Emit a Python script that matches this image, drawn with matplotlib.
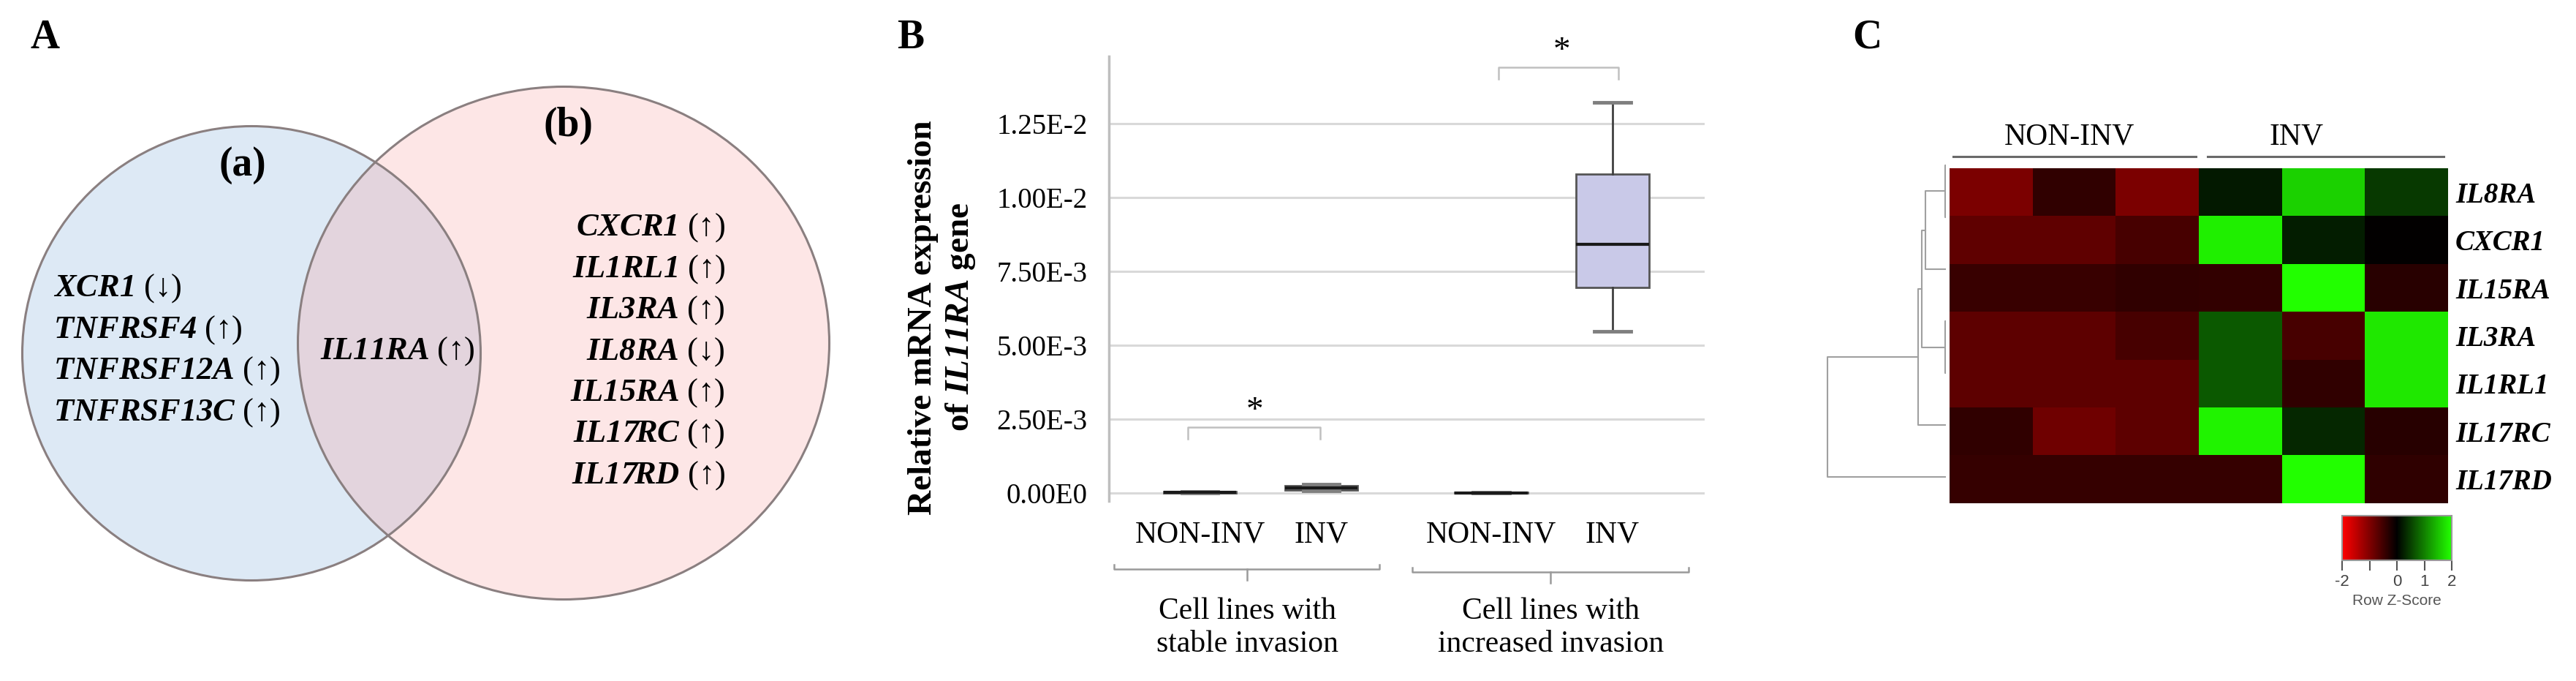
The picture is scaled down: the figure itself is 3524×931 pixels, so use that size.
import numpy as np
import matplotlib
matplotlib.use("Agg")
import matplotlib.pyplot as plt
from matplotlib.patches import Ellipse
from matplotlib.colors import LinearSegmentedColormap

plt.rcParams['font.family'] = ['Liberation Serif', 'DejaVu Serif']
# gene symbols are set in bold italic, digits included
plt.rcParams['mathtext.fontset'] = 'custom'
plt.rcParams['mathtext.it'] = 'Liberation Serif:style=italic:weight=bold'
plt.rcParams['mathtext.rm'] = 'Liberation Serif:style=italic:weight=bold'
plt.rcParams['mathtext.bf'] = 'Liberation Serif:style=italic:weight=bold'

W, H = 3524, 931
DPI = 100

# ---- data -------------------------------------------------------------
# Panel A: Venn gene lists
genes_a = ["XCR1", "TNFRSF4", "TNFRSF12A", "TNFRSF13C"]
arrows_a = ["↓", "↑", "↑", "↑"]
genes_ab = ["IL11RA"]
arrows_ab = ["↑"]
genes_b = ["CXCR1", "IL1RL1", "IL3RA", "IL8RA", "IL15RA", "IL17RC", "IL17RD"]
arrows_b = ["↑", "↑", "↑", "↓", "↑", "↑", "↑"]

# Panel B: box plot summary of IL11RA expression
box_labels = ["NON-INV", "INV", "NON-INV", "INV"]
box_pos = [1.0, 2.0, 3.4, 4.4]
box_whislo = [0.0, 0.8e-4, 0.0, 5.47e-3]
box_q1 = [0.0, 1.0e-4, 0.0, 6.95e-3]
box_med = [2e-5, 1.7e-4, 1e-5, 8.41e-3]
box_q3 = [4e-5, 2.4e-4, 2e-5, 1.08e-2]
box_whishi = [5e-5, 3.0e-4, 3e-5, 1.322e-2]
y_ticks = [0.0, 2.5e-3, 5.0e-3, 7.5e-3, 1.0e-2, 1.25e-2]
y_ticklabels = ["0.00E0", "2.50E-3", "5.00E-3", "7.50E-3", "1.00E-2", "1.25E-2"]
group_names = ["Cell lines with\nstable invasion", "Cell lines with\nincreased invasion"]

# Panel C: row z-scores heatmap
heat_rows = ["IL8RA", "CXCR1", "IL15RA", "IL3RA", "IL1RL1", "IL17RC", "IL17RD"]
heat_cols = ["NON-INV"] * 3 + ["INV"] * 3
heat_z = np.array([
    [-0.96, -0.38, -0.96, 0.20, 1.63, 0.44],
    [-0.75, -0.75, -0.56, 1.87, 0.22, -0.02],
    [-0.45, -0.45, -0.38, -0.40, 2.00, -0.32],
    [-0.72, -0.72, -0.56, 0.69, -0.56, 1.82],
    [-0.72, -0.72, -0.72, 0.69, -0.38, 1.82],
    [-0.38, -0.86, -0.72, 1.90, 0.31, -0.31],
    [-0.42, -0.42, -0.42, -0.42, 2.04, -0.36],
])
# row dendrogram merges: (left, right, height); leaves 0..6, clusters 7..
dendro_links = [(0, 1, 0.05), (7, 2, 1.40), (3, 4, 0.05),
                (8, 9, 1.65), (10, 5, 1.90), (11, 6, 8.10)]
cbar_ticks = [-2, -1, 0, 1, 2]
cbar_ticklabels = ["-2", "", "0", "1", "2"]


def px_rect(l, t, r, b):
    return [l / W, 1 - b / H, (r - l) / W, (b - t) / H]


fig = plt.figure(figsize=(W / DPI, H / DPI), dpi=DPI)

# ---- panel letters ----------------------------------------------------
for letter, x in [("A", 61), ("B", 1246), ("C", 2554)]:
    fig.text(x / W, 1 - 52 / H, letter, fontsize=40, fontweight="bold",
             ha="center", va="center")

# ---- A: Venn -----------------------------------------------------------
ax_a = fig.add_axes(px_rect(0, 0, 1200, H))
ax_a.set_xlim(0, 1200)
ax_a.set_ylim(H, 0)
ax_a.axis("off")

c_left, w_left, h_left = (344, 483), 627, 621
c_right, w_right, h_right = (771, 469), 727, 701
ax_a.add_patch(Ellipse(c_left, w_left, h_left, facecolor="#dde9f5", edgecolor="none"))
right = Ellipse(c_right, w_right, h_right, facecolor="#fde6e6", edgecolor="none")
ax_a.add_patch(right)
overlap = Ellipse(c_left, w_left, h_left, facecolor="#e3d4dd", edgecolor="none")
ax_a.add_patch(overlap)
overlap.set_clip_path(right)
for c, w, h in [(c_left, w_left, h_left), (c_right, w_right, h_right)]:
    ax_a.add_patch(Ellipse(c, w, h, facecolor="none", edgecolor="#8a7f80", lw=2.2))

ax_a.text(332, 226, "(a)", fontsize=40, fontweight="bold", ha="center", va="center")
ax_a.text(777, 172, "(b)", fontsize=40, fontweight="bold", ha="center", va="center")

for i, (g, a) in enumerate(zip(genes_a, arrows_a)):
    ax_a.text(73, 405 + 56.5 * i, rf"$\mathit{{{g}}}$ ({a})", fontsize=32,
              ha="left", va="baseline")
for g, a in zip(genes_ab, arrows_ab):
    ax_a.text(544, 491, rf"$\mathit{{{g}}}$ ({a})", fontsize=32,
              ha="center", va="baseline")
for i, (g, a) in enumerate(zip(genes_b, arrows_b)):
    ax_a.text(992, 322 + 56.4 * i, rf"$\mathit{{{g}}}$ ({a})", fontsize=32,
              ha="right", va="baseline")

# ---- B: box plot -------------------------------------------------------
ax_b = fig.add_axes(px_rect(1517, 77, 2332, 685))
stats = [dict(med=m, q1=a, q3=b, whislo=lo, whishi=hi, fliers=[])
         for m, a, b, lo, hi in zip(box_med, box_q1, box_q3, box_whislo, box_whishi)]
ax_b.bxp(stats, positions=box_pos, widths=0.6, capwidths=0.3, patch_artist=True,
         showfliers=False, manage_ticks=False,
         boxprops=dict(facecolor="#c9c9e8", edgecolor="#555555", lw=2),
         medianprops=dict(color="#1a1a1a", lw=3),
         whiskerprops=dict(color="#404040", lw=2),
         capprops=dict(color="#7f7f7f", lw=3.5))
ax_b.set_xlim(0.25, 5.16)
ax_b.set_ylim(-0.000272, 0.014777)
ax_b.set_yticks(y_ticks)
ax_b.set_yticklabels(y_ticklabels, fontsize=28)
ax_b.set_xticks(box_pos)
ax_b.set_xticklabels(box_labels, fontsize=30)
ax_b.tick_params(axis="y", length=0, pad=21)
ax_b.tick_params(axis="x", length=0, pad=19.5)
ax_b.grid(axis="y", color="#d9d9d9", lw=2.2)
ax_b.set_axisbelow(True)
for s in ["top", "right", "bottom"]:
    ax_b.spines[s].set_visible(False)
ax_b.spines["left"].set_color("#bfbfbf")
ax_b.spines["left"].set_linewidth(2.5)

ax_b.text(-0.279, 0.413, "Relative mRNA expression\nof $\\mathit{IL11RA}$ gene",
          transform=ax_b.transAxes, rotation=90, fontsize=34, fontweight="bold",
          ha="center", va="center", linespacing=1.2)

# significance brackets
for x0, x1, ytop, yend, xs, ys in [(0.90, 1.99, 2.23e-3, 1.83e-3, 1.45, 2.75e-3),
                                   (3.46, 4.45, 1.44e-2, 1.40e-2, 3.98, 1.492e-2)]:
    ax_b.plot([x0, x0, x1, x1], [yend, ytop, ytop, yend], color="#c0c0c0",
              lw=1.8, clip_on=False)
    ax_b.text(xs, ys, "*", fontsize=34, ha="center", va="center", clip_on=False)

# group braces under categories
xt = ax_b.get_xaxis_transform()
for (x0, x1, xm, yb), name in zip([(0.29, 2.48, 1.39, -0.153), (2.75, 5.03, 3.89, -0.160)],
                                  group_names):
    ax_b.plot([x0, x0, x1, x1], [yb + 0.01, yb, yb, yb + 0.01], color="#9a9a9a",
              lw=1.8, transform=xt, clip_on=False)
    ax_b.plot([xm, xm], [yb, yb - 0.025], color="#9a9a9a", lw=1.8,
              transform=xt, clip_on=False)
    ax_b.text(xm, -0.285, name, transform=xt, fontsize=30, ha="center",
              va="center", linespacing=1.2)

# ---- C: heatmap --------------------------------------------------------
cmap = LinearSegmentedColormap.from_list("redgreen", ["#ff0000", "#000000", "#22ff00"])
ax_h = fig.add_axes(px_rect(2667, 190, 3348, 688))
im = ax_h.imshow(heat_z, cmap=cmap, vmin=-2, vmax=2, aspect="auto",
                 interpolation="nearest")
ax_h.set_xticks([])
ax_h.yaxis.tick_right()
ax_h.set_yticks(range(len(heat_rows)))
ax_h.set_yticklabels(heat_rows, fontsize=28, fontstyle="italic", fontweight="bold")
ax_h.tick_params(axis="y", length=0, pad=8)
for s in ax_h.spines.values():
    s.set_visible(False)

# column group headers
for name, x0, x1, xt_ in [("NON-INV", -0.46, 2.47, 0.94), ("INV", 2.61, 5.46, 3.68)]:
    ax_h.plot([x0, x1], [-0.75, -0.75], color="#6a6a6a", lw=2.2, clip_on=False)
    ax_h.text(xt_, -1.16, name, fontsize=30, ha="center", va="center")

# row dendrogram
ax_d = fig.add_axes(px_rect(2490, 190, 2662, 688))
ax_d.set_xlim(8.6, 0)
ax_d.set_ylim(len(heat_rows), 0)
ax_d.axis("off")
node_pos = {i: (0.0, i + 0.5) for i in range(len(heat_rows))}
for k, (a, b, h) in enumerate(dendro_links):
    ha_, ya = node_pos[a]
    hb, yb = node_pos[b]
    ax_d.plot([ha_, h, h, hb], [ya, ya, yb, yb], color="#a0a0a0", lw=1.5)
    node_pos[len(heat_rows) + k] = (h, (ya + yb) / 2)

# colour key
cax = fig.add_axes(px_rect(3204, 705, 3354, 766))
cb = fig.colorbar(im, cax=cax, orientation="horizontal", ticks=cbar_ticks)
cb.ax.set_xticklabels(cbar_ticklabels, family="Liberation Sans", fontsize=16,
                      color="#444444")
cb.ax.tick_params(length=10, width=1.5, color="#555555", pad=4)
cb.outline.set_edgecolor("#999999")
cb.outline.set_linewidth(1.5)
cb.set_label("Row Z-Score", family="Liberation Sans", fontsize=15,
             color="#555555", labelpad=4)

fig.savefig("out.png", dpi=DPI)
